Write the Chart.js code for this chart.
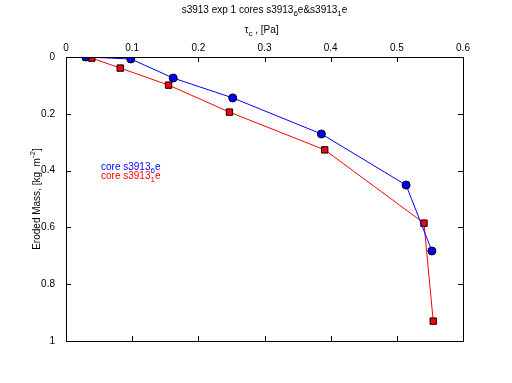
<!DOCTYPE html>
<html>
<head>
<meta charset="utf-8">
<script src="https://cdn.jsdelivr.net/npm/chart.js@4/dist/chart.umd.min.js"></script>
<style>
  html, body { margin: 0; padding: 0; background: #fff; }
  #wrap { width: 512px; height: 383px; }
</style>
</head>
<body>
<div id="wrap"><canvas id="chartErosion" width="512" height="383"></canvas></div>
<script>
// datos
const tauCore6 = [0.030, 0.098, 0.162, 0.252, 0.386, 0.514, 0.553];
const massCore6 = [0.000, 0.007, 0.074, 0.144, 0.271, 0.451, 0.683];
const tauCore1 = [0.030, 0.039, 0.082, 0.155, 0.247, 0.391, 0.541, 0.555];
const massCore1 = [0.000, 0.004, 0.039, 0.099, 0.194, 0.327, 0.585, 0.930];
const xTicks = [0, 0.1, 0.2, 0.3, 0.4, 0.5, 0.6];
const yTicks = [0, 0.2, 0.4, 0.6, 0.8, 1];

const FAMILY = '"Liberation Sans", Arial, sans-serif';
const FONT = '10px ' + FAMILY;
const FONT_SMALL = '8px ' + FAMILY;

function toPoints(xs, ys) {
    return xs.map((x, i) => ({ x: x, y: ys[i] }));
}

// dibuja texto con partes en subindice / superindice
function drawRich(ctx, parts, x, y, align) {
    let total = 0;
    parts.forEach(p => {
        ctx.font = p.off ? FONT_SMALL : FONT;
        total += ctx.measureText(p.t).width;
    });
    let cx = align === 'center' ? x - total / 2 : x;
    parts.forEach(p => {
        ctx.font = p.off ? FONT_SMALL : FONT;
        ctx.fillText(p.t, cx, y + (p.off || 0));
        cx += ctx.measureText(p.t).width;
    });
}

const marcoPlugin = {
    id: 'marco',
    afterDraw(chart) {
        const ctx = chart.ctx;
        const a = chart.chartArea;
        const sx = chart.scales.x, sy = chart.scales.y;
        ctx.save();
        ctx.strokeStyle = '#000';
        ctx.lineWidth = 1;
        ctx.strokeRect(a.left + 0.5, a.top + 0.5, a.right - a.left, a.bottom - a.top);
        ctx.beginPath();
        xTicks.forEach(v => {
            const px = Math.round(sx.getPixelForValue(v)) + 0.5;
            ctx.moveTo(px, a.top); ctx.lineTo(px, a.top + 5);
            ctx.moveTo(px, a.bottom); ctx.lineTo(px, a.bottom - 5);
        });
        yTicks.forEach(v => {
            const py = Math.round(sy.getPixelForValue(v)) + 0.5;
            ctx.moveTo(a.left, py); ctx.lineTo(a.left + 5, py);
            ctx.moveTo(a.right, py); ctx.lineTo(a.right - 5, py);
        });
        ctx.stroke();

        ctx.fillStyle = '#000';
        ctx.textBaseline = 'middle';
        const cx = (a.left + a.right) / 2;
        drawRich(ctx, [
            { t: 's3913 exp 1 cores s3913' }, { t: '6', off: 4 },
            { t: 'e&s3913' }, { t: '1', off: 4 }, { t: 'e' }
        ], cx, 10, 'center');
        drawRich(ctx, [
            { t: '\u03C4' }, { t: 'c', off: 4 }, { t: ' , [Pa]' }
        ], cx - 3, 30, 'center');

        // titulo eje y
        ctx.save();
        ctx.translate(37, (a.top + a.bottom) / 2);
        ctx.rotate(-Math.PI / 2);
        drawRich(ctx, [
            { t: 'Eroded Mass, [kg  m' }, { t: '-2', off: -4 }, { t: ']' }
        ], 0, 0, 'center');
        ctx.restore();

        // leyenda solo texto
        ctx.fillStyle = '#0000ff';
        drawRich(ctx, [{ t: 'core s3913' }, { t: '6', off: 4 }, { t: 'e' }], 101, 167, 'left');
        ctx.fillStyle = '#ff0000';
        drawRich(ctx, [{ t: 'core s3913' }, { t: '1', off: 4 }, { t: 'e' }], 101, 176, 'left');
        ctx.restore();
    }
};

new Chart(document.getElementById('chartErosion'), {
    type: 'scatter',
    data: {
        datasets: [{
            label: 'core s3913_6e',
            data: toPoints(tauCore6, massCore6),
            showLine: true,
            borderColor: '#0000ff',
            borderWidth: 1,
            pointStyle: 'circle',
            pointRadius: 4,
            pointBackgroundColor: '#0000ff',
            pointBorderColor: '#000',
            pointBorderWidth: 1
        }, {
            label: 'core s3913_1e',
            data: toPoints(tauCore1, massCore1),
            showLine: true,
            borderColor: '#ff0000',
            borderWidth: 1,
            pointStyle: 'rect',
            pointRadius: 4.5,
            pointBackgroundColor: '#ff0000',
            pointBorderColor: '#000',
            pointBorderWidth: 1
        }]
    },
    options: {
        responsive: false,
        animation: false,
        layout: { padding: { left: 0, top: 0, right: 49, bottom: 42 } },
        plugins: { legend: { display: false }, tooltip: { enabled: false } },
        scales: {
            x: {
                type: 'linear',
                position: 'top',
                min: 0, max: 0.6,
                afterFit: s => { s.height = 57; },
                afterBuildTicks: s => { s.ticks = xTicks.map(v => ({ value: v })); },
                grid: { display: false, drawTicks: false },
                border: { display: false },
                ticks: {
                    color: '#000', font: { family: FAMILY, size: 10 },
                    padding: 3, maxRotation: 0,
                    callback: v => String(v)
                }
            },
            y: {
                type: 'linear',
                reverse: true,
                min: 0, max: 1,
                afterFit: s => { s.width = 66; },
                afterBuildTicks: s => { s.ticks = yTicks.map(v => ({ value: v })); },
                grid: { display: false, drawTicks: false },
                border: { display: false },
                ticks: {
                    color: '#000', font: { family: FAMILY, size: 10 },
                    padding: 11,
                    callback: v => String(v)
                }
            }
        }
    },
    plugins: [marcoPlugin]
});
</script>
</body>
</html>
